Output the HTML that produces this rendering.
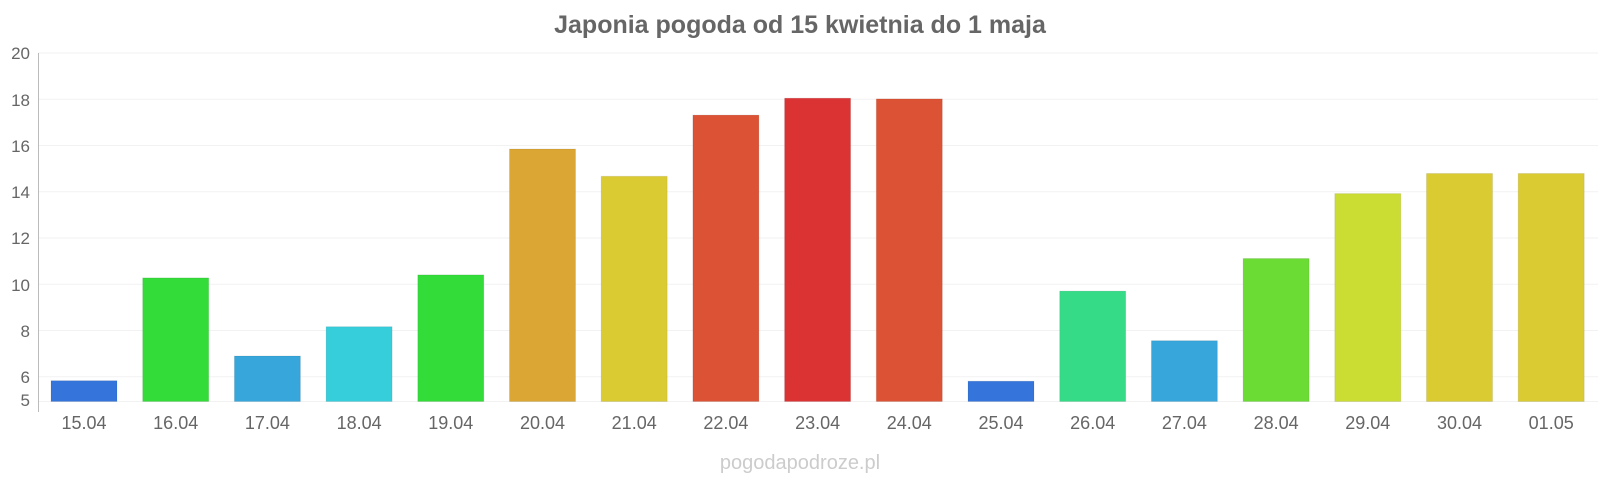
<!DOCTYPE html>
<html><head><meta charset="utf-8"><style>
body{margin:0;background:#fff;}
svg text{font-family:"Liberation Sans",Arial,sans-serif;}
</style></head><body>
<svg width="1600" height="480" xmlns="http://www.w3.org/2000/svg">
<text x="800" y="33" text-anchor="middle" font-size="25" font-weight="bold" fill="#666">Japonia pogoda od 15 kwietnia do 1 maja</text>
<g stroke="#f2f2f2" stroke-width="1">
<line x1="38" x2="1598" y1="53" y2="53"/><line x1="38" x2="1598" y1="99.2" y2="99.2"/>
<line x1="38" x2="1598" y1="145.5" y2="145.5"/><line x1="38" x2="1598" y1="191.7" y2="191.7"/>
<line x1="38" x2="1598" y1="238" y2="238"/><line x1="38" x2="1598" y1="284.2" y2="284.2"/>
<line x1="38" x2="1598" y1="330.5" y2="330.5"/><line x1="38" x2="1598" y1="376.7" y2="376.7"/>
<line x1="38" x2="1598" y1="401.5" y2="401.5"/>
</g>
<line x1="38.5" x2="38.5" y1="53" y2="412" stroke="#bbb"/>
<g font-size="17" fill="#666" text-anchor="end">
<text x="30" y="59">20</text><text x="30" y="106">18</text><text x="30" y="152">16</text>
<text x="30" y="198">14</text><text x="30" y="244">12</text><text x="30" y="291">10</text>
<text x="30" y="337">8</text><text x="30" y="383">6</text><text x="30" y="406">5</text>
</g>
<g stroke="rgba(0,0,0,0.08)" stroke-width="1">
<rect x="51" y="380.7" width="66" height="20.8" fill="#3575db"/>
<rect x="142.7" y="277.9" width="66" height="123.6" fill="#34dc39"/>
<rect x="234.4" y="356" width="66" height="45.5" fill="#37a6db"/>
<rect x="326.1" y="326.7" width="66" height="74.8" fill="#37cedb"/>
<rect x="417.8" y="274.9" width="66" height="126.6" fill="#34dc39"/>
<rect x="509.5" y="149" width="66" height="252.5" fill="#dba634"/>
<rect x="601.2" y="176.3" width="66" height="225.2" fill="#dbcb33"/>
<rect x="692.9" y="115.1" width="66" height="286.4" fill="#dc5234"/>
<rect x="784.6" y="98.2" width="66" height="303.3" fill="#db3234"/>
<rect x="876.3" y="98.9" width="66" height="302.6" fill="#dc5234"/>
<rect x="968" y="381.2" width="66" height="20.3" fill="#3575db"/>
<rect x="1059.7" y="291.1" width="66" height="110.4" fill="#36db88"/>
<rect x="1151.4" y="340.7" width="66" height="60.8" fill="#37a6db"/>
<rect x="1243.1" y="258.5" width="66" height="143" fill="#6bdc34"/>
<rect x="1334.8" y="193.6" width="66" height="207.9" fill="#cbdc33"/>
<rect x="1426.5" y="173.5" width="66" height="228" fill="#dbcb33"/>
<rect x="1518.2" y="173.5" width="66" height="228" fill="#dbcb33"/>
</g>
<g font-size="18" fill="#666" text-anchor="middle">
<text x="84" y="429">15.04</text><text x="175.7" y="429">16.04</text><text x="267.4" y="429">17.04</text>
<text x="359.1" y="429">18.04</text><text x="450.8" y="429">19.04</text><text x="542.5" y="429">20.04</text>
<text x="634.2" y="429">21.04</text><text x="725.9" y="429">22.04</text><text x="817.6" y="429">23.04</text>
<text x="909.3" y="429">24.04</text><text x="1001" y="429">25.04</text><text x="1092.7" y="429">26.04</text>
<text x="1184.4" y="429">27.04</text><text x="1276.1" y="429">28.04</text><text x="1367.8" y="429">29.04</text>
<text x="1459.5" y="429">30.04</text><text x="1551.2" y="429">01.05</text>
</g>
<text x="800" y="469" text-anchor="middle" font-size="20" fill="#ccc">pogodapodroze.pl</text>
</svg>
</body></html>
